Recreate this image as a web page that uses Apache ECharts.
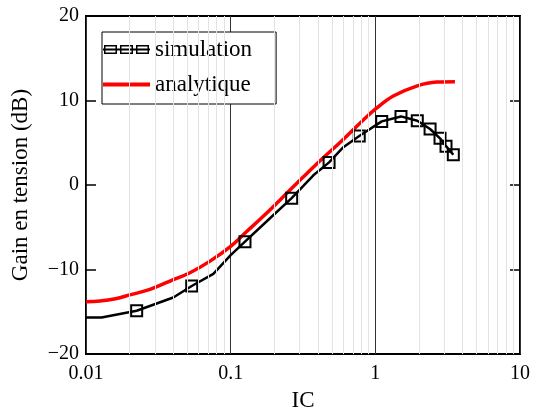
<!DOCTYPE html>
<html>
<head>
<meta charset="utf-8">
<script src="https://cdn.jsdelivr.net/npm/echarts@6/dist/echarts.min.js"></script>
<style>
html,body{margin:0;padding:0;background:#fff;}
#chart{width:537px;height:417px;}
</style>
</head>
<body>
<div id="chart"></div>
<script>
// ---- data ----
var simX = [0.01, 0.0128, 0.0224, 0.0401, 0.0538, 0.0759, 0.1, 0.1256, 0.187, 0.264, 0.373, 0.479, 0.601, 0.774, 1.107, 1.504, 1.95, 2.39, 2.80, 3.08, 3.46];
var simY = [-15.66, -15.66, -14.87, -13.3, -11.94, -10.5, -8.3, -6.7, -3.93, -1.55, 1.15, 2.68, 4.48, 5.8, 7.53, 8.12, 7.60, 6.63, 5.53, 4.60, 3.58];
var simMarker = [0, 0, 1, 0, 1, 0, 0, 1, 0, 1, 0, 1, 0, 1, 1, 1, 1, 1, 1, 1, 1];
var anaX = [0.01, 0.0125, 0.0160, 0.0201, 0.0277, 0.0381, 0.0523, 0.0720, 0.1, 0.129, 0.168, 0.257, 0.393, 0.600, 0.826, 1.0, 1.33, 1.93, 2.66, 3.55];
var anaY = [-13.8, -13.72, -13.45, -13.0, -12.34, -11.36, -10.38, -9.0, -7.25, -5.5, -3.7, -0.6, 2.5, 5.4, 7.7, 8.97, 10.53, 11.71, 12.18, 12.22];
var seriesNames = ['simulation', 'analytique'];
var xName = 'IC';
var yName = 'Gain en tension (dB)';
var minorGridX = [0.02, 0.03, 0.04, 0.05, 0.06, 0.07, 0.08, 0.09, 0.2, 0.3, 0.4, 0.5, 0.6, 0.7, 0.8, 0.9, 2, 3, 4, 5, 6, 7, 8, 9];

var FONT = "'Liberation Serif', 'Times New Roman', serif";

var simData = simX.map(function (x, i) {
  return simMarker[i] ? { value: [x, simY[i]] } : { value: [x, simY[i]], symbol: 'none' };
});
var anaData = anaX.map(function (x, i) { return [x, anaY[i]]; });

// legend icon: line with three hollow boxes, built from filled bars
function bar(x1, y1, x2, y2) { return 'M' + x1 + ' ' + y1 + 'H' + x2 + 'V' + y2 + 'H' + x1 + 'Z'; }
function box(x1, x2) {
  var t = 1.5;
  return bar(x1, 0, x2, t) + bar(x1, 9 - t, x2, 9) + bar(x1, 0, x1 + t, 9) + bar(x2 - t, 0, x2, 9);
}
var simIcon = 'path://' + bar(0, 3.5, 47, 5.5) + box(1, 14) + box(17, 30) + box(33, 46);
var anaIcon = 'path://' + bar(0, 0, 47, 4);

var chart = echarts.init(document.getElementById('chart'), null, { renderer: 'canvas' });
chart.setOption({
  animation: false,
  backgroundColor: '#fff',
  grid: { left: 86, right: 17, top: 16, bottom: 60, show: true, borderColor: '#000', borderWidth: 2, backgroundColor: 'transparent' },
  legend: {
    orient: 'vertical',
    left: 102, top: 32,
    padding: [6, 24, 8, 1],
    itemGap: 12,
    itemWidth: 47, itemHeight: 9,
    itemTextGap: 9,
    backgroundColor: '#fff',
    borderColor: '#000', borderWidth: 1, borderRadius: 0,
    selectedMode: false,
    textStyle: { fontFamily: FONT, fontSize: 23, color: '#000', lineHeight: 23 },
    data: [
      { name: seriesNames[0], icon: simIcon, itemStyle: { color: '#000', borderWidth: 0 } },
      { name: seriesNames[1], icon: anaIcon, itemStyle: { color: '#ff0000', borderWidth: 0 } }
    ]
  },
  xAxis: [{
    type: 'log', logBase: 10, min: 0.01, max: 10,
    name: xName, nameLocation: 'middle', nameGap: 33,
    nameTextStyle: { fontFamily: FONT, fontSize: 23, color: '#000' },
    axisLine: { show: false },
    axisTick: { show: false },
    axisLabel: { fontFamily: FONT, fontSize: 20, color: '#000', margin: 10 },
    splitLine: { show: true, lineStyle: { color: '#333', width: 1 } },
    minorTick: { show: false }
  }],
  yAxis: [{
    type: 'value', min: -20, max: 20, interval: 10, position: 'left',
    name: yName, nameLocation: 'middle', nameGap: 54,
    nameTextStyle: { fontFamily: FONT, fontSize: 23, color: '#000' },
    axisLine: { show: false },
    axisTick: { show: true, inside: true, length: 10, lineStyle: { color: '#000', width: 1.5 } },
    axisLabel: {
      fontFamily: FONT, fontSize: 20, color: '#000', margin: 7,
      formatter: function (v) { return v < 0 ? '\u2212' + (-v) : String(v); }
    },
    splitLine: { show: false }
  }, {
    type: 'value', min: -20, max: 20, interval: 10, position: 'right',
    axisLine: { show: false },
    axisTick: { show: true, inside: true, length: 10, lineStyle: { color: '#000', width: 1.5 } },
    axisLabel: { show: false },
    splitLine: { show: false }
  }],
  series: [{
    name: '_grid',
    type: 'line',
    data: [],
    z: 1,
    silent: true,
    markLine: {
      silent: true,
      symbol: ['none', 'none'],
      label: { show: false },
      lineStyle: { color: '#e3e3e3', width: 1, type: 'solid' },
      emphasis: { disabled: true },
      animation: false,
      data: minorGridX.map(function (v) { return { xAxis: v }; })
    }
  }, {
    name: seriesNames[1],
    type: 'line',
    data: anaData,
    smooth: 0.4,
    symbol: 'none',
    z: 3,
    lineStyle: { color: '#ff0000', width: 3.5 },
    itemStyle: { color: '#ff0000' }
  }, {
    name: seriesNames[0],
    type: 'line',
    data: simData,
    symbol: 'rect',
    symbolSize: 11,
    showAllSymbol: true,
    z: 4,
    lineStyle: { color: '#000', width: 2.5 },
    itemStyle: { color: 'transparent', borderColor: '#000', borderWidth: 2 }
  }]
});
</script>
</body>
</html>
